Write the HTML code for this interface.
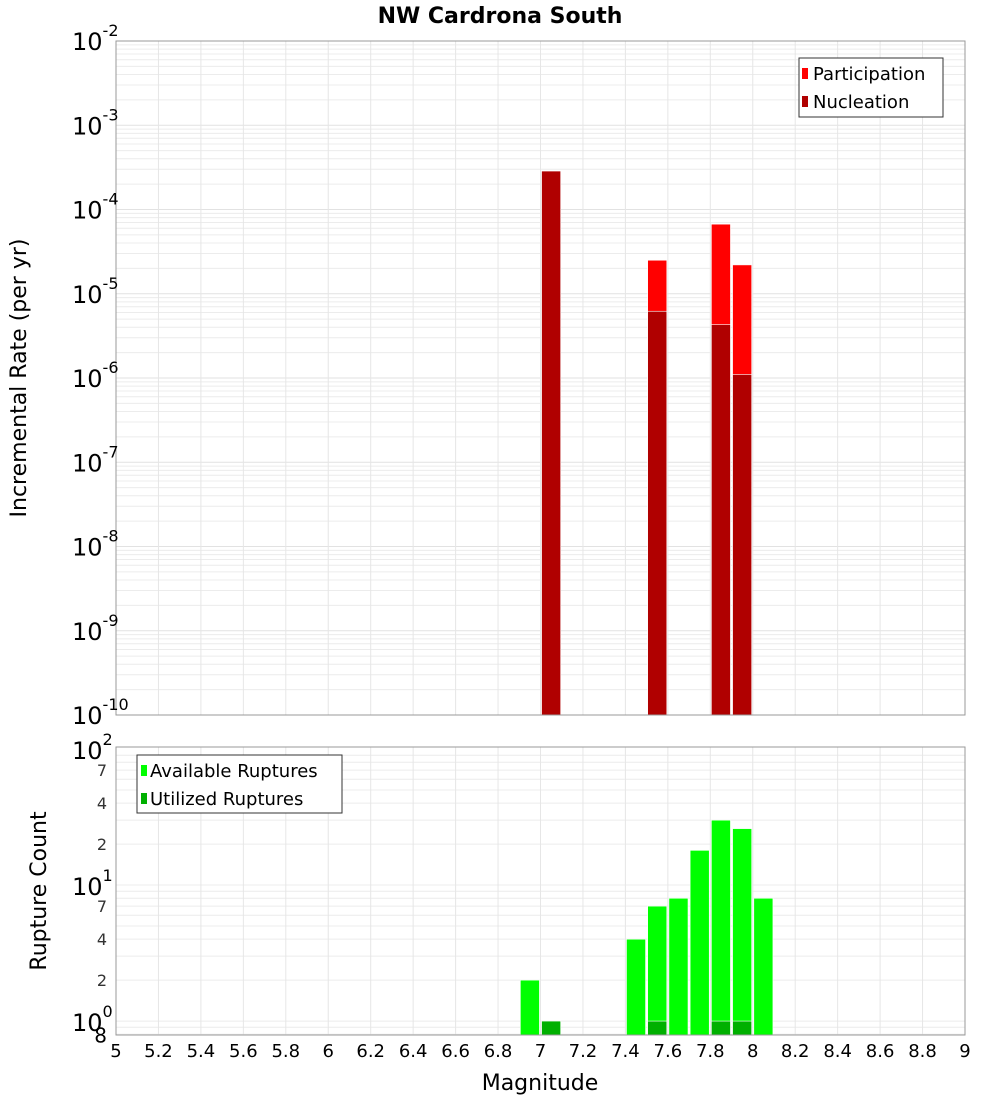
<!DOCTYPE html>
<html><head><meta charset="utf-8"><style>
body{margin:0;background:#fff;font-family:"DejaVu Sans","Liberation Sans",sans-serif;}
svg text{font-family:"DejaVu Sans","Liberation Sans",sans-serif;}
</style></head><body>
<svg id="c" width="1000" height="1100" xmlns="http://www.w3.org/2000/svg">
<text x="500" y="23" text-anchor="middle" font-size="22" font-weight="bold">NW Cardrona South</text>
</svg>
<script>
const topCenters=[7.05,7.55,7.85,7.95];
const participation=[2.86e-4,2.5e-5,6.7e-5,2.2e-5];
const nucleation=[2.86e-4,6.2e-6,4.3e-6,1.1e-6];
const countCenters=[6.95,7.45,7.55,7.65,7.75,7.85,7.95,8.05];
const available=[2,4,7,8,18,30,26,8];
const utilCenters=[7.05,7.55,7.85,7.95];
const utilized=[1,1,1,1];
const xTicks=["5","5.2","5.4","5.6","5.8","6","6.2","6.4","6.6","6.8","7","7.2","7.4","7.6","7.8","8","8.2","8.4","8.6","8.8","9"];
const topExps=[-10,-9,-8,-7,-6,-5,-4,-3,-2];

const svg=document.getElementById('c');const NS='http://www.w3.org/2000/svg';
function mk(t,a,p){const e=document.createElementNS(NS,t);for(const k in a)e.setAttribute(k,a[k]);(p||svg).appendChild(e);return e;}
const X0=116,X1=965;
const xs=v=>X0+(v-5)/4*(X1-X0);
const T0=715,T1=41;
const ty=v=>T0-(Math.log10(v)+10)/8*(T0-T1);
const B0=1035,B1=747,bmin=0.79,bmax=Math.pow(10,2.015);
const by=v=>B0-(Math.log10(v)-Math.log10(bmin))/(Math.log10(bmax)-Math.log10(bmin))*(B0-B1);

// top grid
const gT=mk('g',{});

for(let e=-10;e<-2;e++)for(let m=1;m<10;m++){const y=ty(m*Math.pow(10,e));mk('line',{x1:X0,x2:X1,y1:y,y2:y,stroke:m==1?'#e2e2e2':'#ececec','stroke-width':1},gT);}
for(let i=0;i<xTicks.length;i++){const x=xs(+xTicks[i]);mk('line',{x1:x,x2:x,y1:T1,y2:T0,stroke:'#e6e6e6'},gT);}
// bottom grid
const gB=mk('g',{});

for(let e=-1;e<2;e++)for(let m=1;m<10;m++){const v=m*Math.pow(10,e);if(v<bmin||v>bmax)continue;const y=by(v);mk('line',{x1:X0,x2:X1,y1:y,y2:y,stroke:'#ececec'},gB);}
for(let i=0;i<xTicks.length;i++){const x=xs(+xTicks[i]);mk('line',{x1:x,x2:x,y1:B1,y2:B0,stroke:'#e6e6e6'},gB);}

const W=0.09;
function bar(c,v,base,yf,col,name){const r=mk('rect',{x:xs(c-W/2),y:yf(v),width:xs(c+W/2)-xs(c-W/2),height:base-yf(v),fill:col,stroke:'#fff','stroke-width':0.6});

}
for(let i=0;i<topCenters.length;i++)bar(topCenters[i],participation[i],T0,ty,'#ff0000','participation-bar');
for(let i=0;i<topCenters.length;i++)bar(topCenters[i],nucleation[i],T0,ty,'#b00000','nucleation-bar');
for(let i=0;i<countCenters.length;i++)bar(countCenters[i],available[i],B0,by,'#00ff00','available-bar');
for(let i=0;i<utilCenters.length;i++)bar(utilCenters[i],utilized[i],B0,by,'#00b000','utilized-bar');

mk('rect',{x:X0,y:T1,width:X1-X0,height:T0-T1,fill:'none',stroke:'#999'});
mk('rect',{x:X0,y:B1,width:X1-X0,height:B0-B1,fill:'none',stroke:'#999'});

// top y labels
for(let i=0;i<topExps.length;i++){const y=ty(Math.pow(10,topExps[i]));
const t=mk('text',{x:72,y:y+9,'font-size':24});


t.textContent='10';const s=mk('tspan',{dy:-14,'font-size':16},t);s.textContent=String(topExps[i]);}
// bottom y labels
[[1,'0'],[10,'1'],[100,'2']].forEach(([v,e])=>{const y=by(v);const t=mk('text',{x:72,y:y+10,'font-size':24});


t.textContent='10';const s=mk('tspan',{dy:-14,'font-size':16},t);s.textContent=e;});
[2,4,7,20,40,70].forEach(v=>{const t=mk('text',{x:107,y:by(v)+6,'font-size':16,'text-anchor':'end',fill:'#333'});


t.textContent=String(v<10?v:v/10);});
{const t=mk('text',{x:107,y:by(0.8)+8,'font-size':20,'text-anchor':'end'});


t.textContent='8';}
// x labels
for(let i=0;i<xTicks.length;i++){const t=mk('text',{x:xs(+xTicks[i]),y:1057,'font-size':18,'text-anchor':'middle'});


t.textContent=xTicks[i];}
</script>
<svg width="1000" height="1100" style="position:absolute;left:0;top:0" xmlns="http://www.w3.org/2000/svg">
<text x="540" y="1090" text-anchor="middle" font-size="22">Magnitude</text>
<text transform="translate(26,378) rotate(-90)" text-anchor="middle" font-size="22">Incremental Rate (per yr)</text>
<text transform="translate(46,891) rotate(-90)" text-anchor="middle" font-size="22">Rupture Count</text>
<g>
<rect x="799" y="58" width="144" height="59" fill="#fff" stroke="#333"/>
<rect x="802" y="68" width="6" height="11" fill="#ff0000"/>
<text x="813" y="80" font-size="18">Participation</text>
<rect x="802" y="96" width="6" height="11" fill="#b00000"/>
<text x="813" y="108" font-size="18">Nucleation</text>
</g>
<g>
<rect x="137" y="755" width="205" height="58" fill="#fff" stroke="#333"/>
<rect x="141" y="765" width="6" height="11" fill="#00ff00"/>
<text x="150" y="777" font-size="18">Available Ruptures</text>
<rect x="141" y="793" width="6" height="11" fill="#00b000"/>
<text x="150" y="805" font-size="18">Utilized Ruptures</text>
</g>
</svg>
</body></html>
